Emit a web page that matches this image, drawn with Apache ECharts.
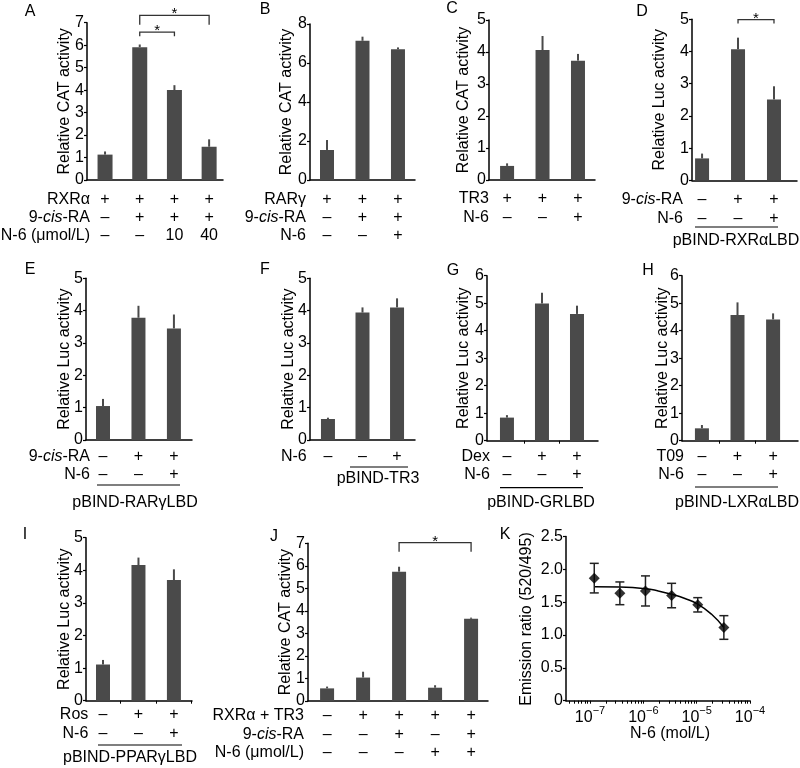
<!DOCTYPE html>
<html><head><meta charset="utf-8">
<script src="https://cdn.jsdelivr.net/npm/echarts@6/dist/echarts.min.js"></script>
<style>html,body{margin:0;padding:0;background:#fff}#c{width:800px;height:768px}</style>
</head><body><div id="c"></div>
<script>
const FONT = '"Liberation Sans", Arial, Helvetica, sans-serif';

// ---------------- DATA ----------------
const A_values = [1.13, 5.91, 4.00, 1.48];
const A_err    = [0.14, 0.12, 0.22, 0.33];
const A_rows   = [['+','+','+','+'], ['–','+','+','+'], ['–','–','10','40']];
const A_titles = ['RXRα', '9-{i|cis}-RA', 'N-6 (μmol/L)'];
const A_brackets = [[1, 2, 6.58, 0.18], [1, 3, 7.33, 0.42]];

const B_values = [1.54, 7.14, 6.70];
const B_err    = [0.51, 0.21, 0.10];
const B_rows   = [['+','+','+'], ['–','+','+'], ['–','–','+']];
const B_titles = ['RARγ', '9-{i|cis}-RA', 'N-6'];

const C_values = [0.44, 4.06, 3.73];
const C_err    = [0.08, 0.44, 0.21];
const C_rows   = [['+','+','+'], ['–','–','+']];
const C_titles = ['TR3', 'N-6'];

const D_values = [0.68, 4.07, 2.51];
const D_err    = [0.15, 0.36, 0.41];
const D_rows   = [['–','+','+'], ['–','–','+']];
const D_titles = ['9-{i|cis}-RA', 'N-6'];
const D_brackets = [[1, 2, 4.99, 0.12]];

const E_values = [1.05, 3.78, 3.45];
const E_err    = [0.22, 0.37, 0.43];
const E_rows   = [['–','+','+'], ['–','–','+']];
const E_titles = ['9-{i|cis}-RA', 'N-6'];

const F_values = [0.65, 3.94, 4.10];
const F_err    = [0.04, 0.16, 0.28];
const F_rows   = [['–','–','+']];
const F_titles = ['N-6'];

const G_values = [0.84, 4.99, 4.61];
const G_err    = [0.09, 0.39, 0.30];
const G_rows   = [['–','+','+'], ['–','–','+']];
const G_titles = ['Dex', 'N-6'];

const H_values = [0.45, 4.57, 4.41];
const H_err    = [0.12, 0.46, 0.22];
const H_rows   = [['–','+','+'], ['–','–','+']];
const H_titles = ['T09', 'N-6'];

const I_values = [1.11, 4.16, 3.70];
const I_err    = [0.14, 0.23, 0.33];
const I_rows   = [['–','+','+'], ['–','–','+']];
const I_titles = ['Ros', 'N-6'];

const J_values = [0.56, 1.04, 5.74, 0.59, 3.65];
const J_err    = [0.08, 0.26, 0.22, 0.11, 0.05];
const J_rows   = [['–','+','+','+','+'], ['–','–','+','–','+'], ['–','–','–','+','+']];
const J_titles = ['RXRα + TR3', '9-{i|cis}-RA', 'N-6 (μmol/L)'];
const J_brackets = [[2, 4, 7.03, 0.40]];

const K_logConc = [-6.92, -6.44, -5.96, -5.47, -4.98, -4.49];
const K_ratio   = [1.865, 1.634, 1.670, 1.600, 1.459, 1.114];
const K_err     = [0.225, 0.173, 0.229, 0.186, 0.109, 0.180];
const K_curveLogConc = [-6.92, -6.44, -5.96, -5.72, -5.47, -5.22, -4.98, -4.72, -4.49];
const K_curveRatio   = [1.735, 1.730, 1.705, 1.670, 1.620, 1.555, 1.470, 1.315, 1.115];
const K_majorTicks = [-7, -6, -5, -4];

// ---------------- LAYOUT ----------------
const LAYOUT = {
  A: {left:87, top:22.7, right:223, bottom:180, xmin:-0.52, xmax:3.40, ymax:7, yint:1, barW:15, rowY:[20,38,56], titleX:90, nameX:65, letter:[30,12], yname:'Relative CAT activity'},
  B: {left:310, top:24, right:415, bottom:180, xmin:-0.48, xmax:2.48, ymax:8, yint:2, barW:14, rowY:[20,38,56], titleX:306, nameX:286.7, letter:[265,10], yname:'Relative CAT activity'},
  C: {left:489, top:20, right:595, bottom:180, xmin:-0.51, xmax:2.48, ymax:5, yint:1, barW:14, rowY:[19,38], titleX:489, nameX:463.3, letter:[452,9], yname:'Relative CAT activity'},
  D: {left:692, top:19.3, right:797, bottom:180.3, xmin:-0.28, xmax:2.64, ymax:5, yint:1, barW:14, rowY:[19,38], titleX:683, nameX:660, letter:[642,12], yname:'Relative Luc activity', under:[695,778,227], sub:[736,241,'pBIND-RXRαLBD']},
  E: {left:86, top:278.3, right:192, bottom:440, xmin:-0.48, xmax:2.51, ymax:5, yint:1, barW:14, rowY:[17,35], titleX:90, nameX:65, letter:[30,270], yname:'Relative Luc activity', under:[97,180,485], sub:[135,503,'pBIND-RARγLBD']},
  F: {left:310, top:278.3, right:415, bottom:440, xmin:-0.52, xmax:2.52, ymax:5, yint:1, barW:14, rowY:[17], titleX:306.7, nameX:288.3, letter:[265,270], yname:'Relative Luc activity', under:[350,408,467], sub:[378,479,'pBIND-TR3']},
  G: {left:487, top:275.7, right:598, bottom:440.7, xmin:-0.57, xmax:2.60, ymax:6, yint:1, barW:14, rowY:[16.3,34.3], titleX:490, nameX:464, letter:[453,271], yname:'Relative Luc activity', under:[500,583,487.7], sub:[541,503,'pBIND-GRLBD'], xticks:[0.5,1.5]},
  H: {left:682, top:275.7, right:798, bottom:440.7, xmin:-0.56, xmax:2.70, ymax:6, yint:1, barW:14, rowY:[16.3,34.3], titleX:684, nameX:662.7, letter:[648,271], yname:'Relative Luc activity', under:[695,778,487], sub:[737,503,'pBIND-LXRαLBD'], xticks:[0.5,1.5]},
  I: {left:86, top:537.7, right:192, bottom:700.7, xmin:-0.48, xmax:2.51, ymax:5, yint:1, barW:14, rowY:[14,33], titleX:88.3, nameX:65, letter:[25,535], yname:'Relative Luc activity', under:[98,182,745], sub:[130,758,'pBIND-PPARγLBD'], xticks:[0.5,1.5,2.5]},
  J: {left:308, top:543.3, right:488, bottom:701, xmin:-0.53, xmax:4.47, ymax:7, yint:1, barW:14, rowY:[15,34,52], titleX:304, nameX:286, letter:[274,537], yname:'Relative CAT activity'}
};
const K_LAYOUT = {left:566, top:536.4, right:750, bottom:700.7, xmin:-7.45, xmax:-4, nameX:527, nameY:619, xnameX:670, xnameY:734, letter:[505,535]};

const BAR_COLOR = '#4a4a4a';
const TXT = '#000';

const grids = [], xAxes = [], yAxes = [], series = [], graphics = [];

function textEl(x, y, text, opts) {
  opts = opts || {};
  return {
    type: 'text', x: x, y: y, rotation: opts.rotation || 0, silent: true,
    style: {
      text: text, fill: TXT, fontSize: opts.size || 16, fontFamily: FONT,
      align: opts.align || 'center', verticalAlign: 'middle',
      rich: { i: { fontStyle: 'italic', fontSize: opts.size || 16, fontFamily: FONT, fill: TXT } }
    }
  };
}

function barPanel(key, values, errs, rows, titles, brackets) {
  const L = LAYOUT[key];
  const idx = grids.length;
  grids.push({left: L.left, top: L.top, width: L.right - L.left, height: L.bottom - L.top});
  xAxes.push({
    type: 'value', gridIndex: idx, min: L.xmin, max: L.xmax,
    axisLine: {show: true, onZero: false, lineStyle: {color: '#000', width: 1.5}},
    axisTick: L.xticks ? {show: true, customValues: L.xticks, length: 3, lineStyle: {color: '#000', width: 1}} : {show: false},
    axisLabel: {show: false}, splitLine: {show: false}
  });
  yAxes.push({
    type: 'value', gridIndex: idx, min: 0, max: L.ymax, interval: L.yint,
    axisLine: {show: true, onZero: false, lineStyle: {color: '#000', width: 1.5}},
    axisTick: {show: true, length: 3, lineStyle: {color: '#000', width: 1.2}},
    axisLabel: {fontSize: 16, fontFamily: FONT, color: TXT, margin: 3},
    splitLine: {show: false}
  });
  series.push({
    type: 'bar', xAxisIndex: idx, yAxisIndex: idx, barWidth: L.barW, silent: true,
    itemStyle: {color: BAR_COLOR},
    data: values.map((v, i) => [i, v]), z: 2
  });
  series.push({
    type: 'custom', xAxisIndex: idx, yAxisIndex: idx, silent: true, z: 3,
    data: values.map((v, i) => [i, v, errs[i]]),
    encode: {x: 0, y: 1},
    renderItem: (p, api) => {
      const i = api.value(0), v = api.value(1), e = api.value(2);
      const a = api.coord([i, v]), b = api.coord([i, v + e]);
      return {type: 'line', shape: {x1: a[0], y1: a[1], x2: b[0], y2: b[1]}, style: {stroke: BAR_COLOR, lineWidth: 2}};
    }
  });
  const cells = [];
  rows.forEach((row, r) => row.forEach((t, i) => cells.push({i: i, r: r, t: t})));
  series.push({
    type: 'custom', xAxisIndex: idx, yAxisIndex: idx, silent: true, clip: false, z: 4,
    data: cells.map(c => [c.i, 0]),
    encode: {x: 0, y: 1},
    renderItem: (p, api) => {
      const c = cells[p.dataIndex];
      const pt = api.coord([c.i, 0]);
      return {type: 'text', x: pt[0], y: pt[1] + L.rowY[c.r],
        style: {text: c.t, fill: TXT, fontSize: 16, fontFamily: FONT, align: 'center', verticalAlign: 'middle'}};
    }
  });
  if (brackets) {
    series.push({
      type: 'custom', xAxisIndex: idx, yAxisIndex: idx, silent: true, clip: false, z: 5,
      data: brackets.map(b => [b[0], b[2]]),
      encode: {x: 0, y: 1},
      renderItem: (p, api) => {
        const b = brackets[p.dataIndex];
        const p1 = api.coord([b[0], b[2]]), p2 = api.coord([b[1], b[2]]);
        const d = api.coord([b[0], b[2] - b[3]]);
        const dy = d[1] - p1[1];
        return {type: 'group', children: [
          {type: 'polyline', shape: {points: [[p1[0], p1[1] + dy], [p1[0], p1[1]], [p2[0], p2[1]], [p2[0], p2[1] + dy]]},
           style: {stroke: '#333', lineWidth: 1.3, fill: null}},
          {type: 'text', x: (p1[0] + p2[0]) / 2, y: p1[1] - 1,
           style: {text: '*', fill: TXT, fontSize: 15, fontFamily: FONT, align: 'center', verticalAlign: 'middle'}}
        ]};
      }
    });
  }
  graphics.push(textEl(L.letter[0], L.letter[1], key, {size: 16}));
  graphics.push(textEl(L.nameX, (L.top + L.bottom) / 2, L.yname, {rotation: Math.PI / 2}));
  titles.forEach((t, r) => graphics.push(textEl(L.titleX, L.bottom + L.rowY[r], t, {align: 'right'})));
  if (L.under) {
    graphics.push({type: 'line', silent: true, shape: {x1: L.under[0], y1: L.under[2], x2: L.under[1], y2: L.under[2]},
      style: {stroke: '#000', lineWidth: 1.2}});
  }
  if (L.sub) graphics.push(textEl(L.sub[0], L.sub[1], L.sub[2]));
}

barPanel('A', A_values, A_err, A_rows, A_titles, A_brackets);
barPanel('B', B_values, B_err, B_rows, B_titles);
barPanel('C', C_values, C_err, C_rows, C_titles);
barPanel('D', D_values, D_err, D_rows, D_titles, D_brackets);
barPanel('E', E_values, E_err, E_rows, E_titles);
barPanel('F', F_values, F_err, F_rows, F_titles);
barPanel('G', G_values, G_err, G_rows, G_titles);
barPanel('H', H_values, H_err, H_rows, H_titles);
barPanel('I', I_values, I_err, I_rows, I_titles);
barPanel('J', J_values, J_err, J_rows, J_titles, J_brackets);

// ---- Panel K ----
(function () {
  const L = K_LAYOUT;
  const idx = grids.length;
  grids.push({left: L.left, top: L.top, width: L.right - L.left, height: L.bottom - L.top});
  const minor = [];
  for (let k = -8; k <= -5; k++) for (let m = 1; m <= 9; m++) {
    const v = k + Math.log10(m);
    if (v >= L.xmin && v <= L.xmax + 1e-9) minor.push(v);
  }
  minor.push(-4);
  xAxes.push({
    type: 'value', gridIndex: idx, min: L.xmin, max: L.xmax,
    axisLine: {show: true, onZero: false, lineStyle: {color: '#000', width: 1.5}},
    axisTick: {show: true, customValues: minor, length: 3, lineStyle: {color: '#000', width: 1}},
    axisLabel: {show: true, customValues: K_majorTicks, margin: 5, lineHeight: 20,
      formatter: v => '{b|10}{s|−' + Math.abs(Math.round(v)) + '}',
      rich: {
        b: {fontSize: 16, fontFamily: FONT, color: TXT, verticalAlign: 'bottom'},
        s: {fontSize: 11, fontFamily: FONT, color: TXT, verticalAlign: 'top'}
      }},
    splitLine: {show: false}
  });
  yAxes.push({
    type: 'value', gridIndex: idx, min: 0, max: 2.5, interval: 0.5,
    axisLine: {show: true, onZero: false, lineStyle: {color: '#000', width: 1.5}},
    axisTick: {show: true, length: 3, lineStyle: {color: '#000', width: 1.2}},
    axisLabel: {fontSize: 16, fontFamily: FONT, color: TXT, margin: 3, formatter: v => v === 0 ? '0' : v.toFixed(1)},
    splitLine: {show: false}
  });
  series.push({
    type: 'line', xAxisIndex: idx, yAxisIndex: idx, smooth: true, showSymbol: false, silent: true,
    lineStyle: {color: '#000', width: 1.5}, z: 2,
    data: K_curveLogConc.map((x, i) => [x, K_curveRatio[i]])
  });
  series.push({
    type: 'custom', xAxisIndex: idx, yAxisIndex: idx, silent: true, z: 3,
    data: K_logConc.map((x, i) => [x, K_ratio[i], K_err[i]]),
    encode: {x: 0, y: 1},
    renderItem: (p, api) => {
      const x = api.value(0), y = api.value(1), e = api.value(2);
      const t = api.coord([x, y + e]), b = api.coord([x, y - e]);
      const w = 4.5, st = {stroke: '#222', lineWidth: 1.5};
      return {type: 'group', children: [
        {type: 'line', shape: {x1: t[0], y1: t[1], x2: b[0], y2: b[1]}, style: st},
        {type: 'line', shape: {x1: t[0] - w, y1: t[1], x2: t[0] + w, y2: t[1]}, style: st},
        {type: 'line', shape: {x1: b[0] - w, y1: b[1], x2: b[0] + w, y2: b[1]}, style: st}
      ]};
    }
  });
  series.push({
    type: 'scatter', xAxisIndex: idx, yAxisIndex: idx, symbol: 'diamond', symbolSize: 11, silent: true,
    itemStyle: {color: '#000'}, z: 4,
    data: K_logConc.map((x, i) => [x, K_ratio[i]])
  });
  graphics.push(textEl(L.letter[0], L.letter[1], 'K', {size: 16}));
  graphics.push(textEl(L.nameX, L.nameY, 'Emission ratio (520/495)', {rotation: Math.PI / 2}));
  graphics.push(textEl(L.xnameX, L.xnameY, 'N-6 (mol/L)'));
})();

const chart = echarts.init(document.getElementById('c'), null, {renderer: 'canvas'});
chart.setOption({
  animation: false,
  backgroundColor: '#fff',
  grid: grids, xAxis: xAxes, yAxis: yAxes, series: series,
  graphic: {elements: graphics}
});
</script>
</body></html>
